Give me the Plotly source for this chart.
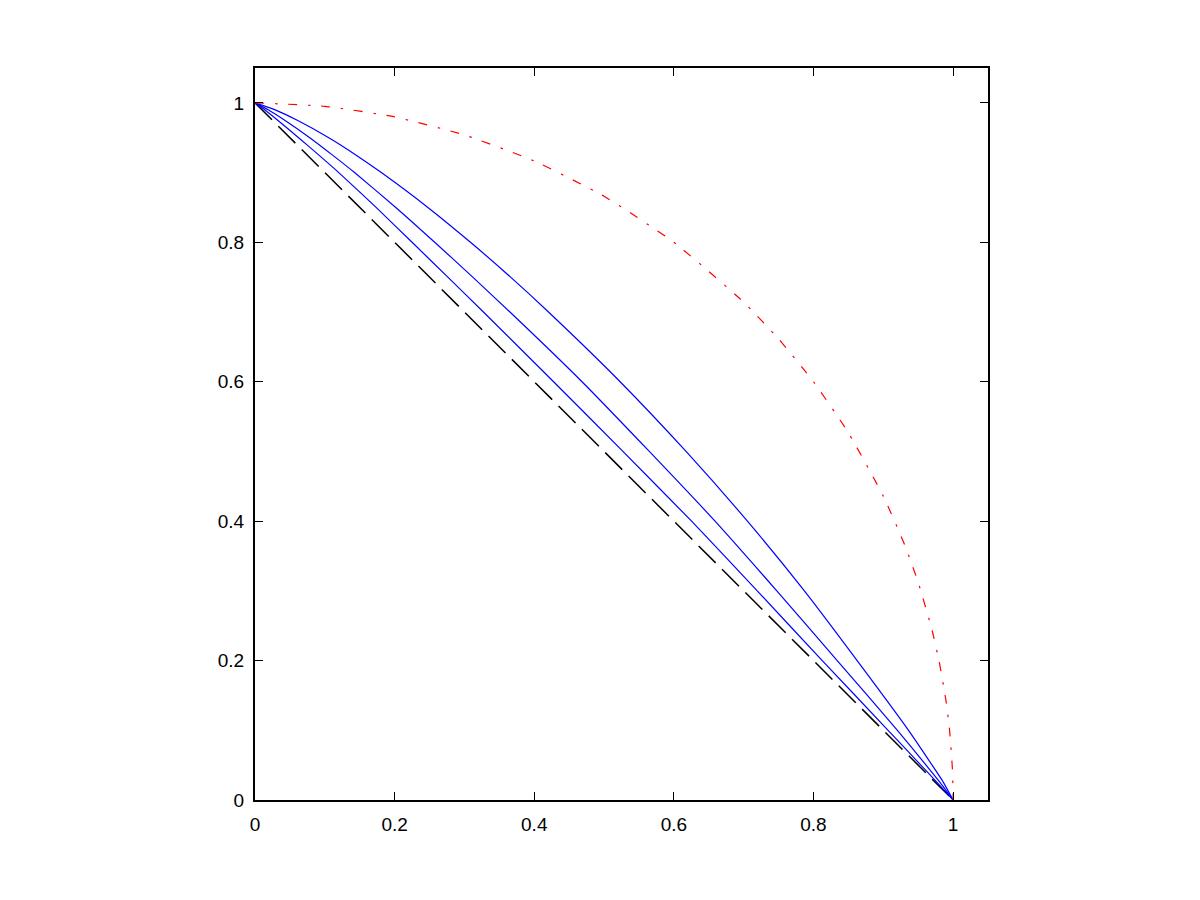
import plotly.graph_objects as go

# Quarter circle (red dash-dot)
red_x = [0, 0.1, 0.2, 0.3, 0.4, 0.5, 0.6, 0.7, 0.75, 0.8, 0.85, 0.9, 0.93, 0.95, 0.97, 0.98, 0.99, 0.995, 0.999, 0.9999, 1]
red_y = [1, 0.99499, 0.97980, 0.95394, 0.91652, 0.86603, 0.8, 0.71414, 0.66144, 0.6, 0.52678, 0.43589,
         0.36756, 0.31225, 0.24310, 0.19900, 0.14107, 0.09987, 0.04471, 0.01414, 0]

# Blue curves, shared y levels
blue_y = [1, 0.99, 0.975, 0.95, 0.925, 0.9, 0.85, 0.8, 0.75, 0.7, 0.6, 0.5, 0.4, 0.3, 0.2, 0.1, 0.05, 0.025, 0]
blue1_x = [0, 0.01371, 0.03252, 0.06249, 0.09157, 0.11999, 0.17349, 0.22503, 0.27625, 0.32721, 0.42772,
           0.52702, 0.62540, 0.71944, 0.81257, 0.90689, 0.95382, 0.97723, 1]
blue2_x = [0, 0.01891, 0.04252, 0.07841, 0.11116, 0.14261, 0.20168, 0.25746, 0.31190, 0.36522, 0.46843,
           0.56484, 0.65898, 0.74747, 0.83399, 0.92024, 0.96132, 0.98152, 1]
blue3_x = [0, 0.02896, 0.06058, 0.10566, 0.14497, 0.18098, 0.24764, 0.30865, 0.36615, 0.42043, 0.52304,
           0.61748, 0.70538, 0.78699, 0.86256, 0.93617, 0.96998, 0.98630, 1]

# Black dashed diagonal
diag_x = [0, 1]
diag_y = [1, 0]

tick_vals = [0, 0.2, 0.4, 0.6, 0.8, 1]
tick_text = ["0", "0.2", "0.4", "0.6", "0.8", "1"]

fig = go.Figure()
fig.add_trace(go.Scatter(x=diag_x, y=diag_y, mode="lines",
                         line=dict(color="black", width=1.5, dash="24px,9px")))
for bx in (blue1_x, blue2_x, blue3_x):
    fig.add_trace(go.Scatter(x=bx, y=blue_y, mode="lines",
                             line=dict(color="#0000ff", width=1.2, shape="spline", smoothing=0.5)))
fig.add_trace(go.Scatter(x=red_x, y=red_y, mode="lines",
                         line=dict(color="#ff0000", width=1.2, shape="spline", smoothing=0.5,
                                   dash="9px,11px,2.5px,10.5px")))

axis_common = dict(
    tickvals=tick_vals, ticktext=tick_text,
    showline=True, linecolor="black", linewidth=2, mirror="ticks",
    ticks="inside", ticklen=8, tickwidth=1, tickcolor="black",
    showgrid=False, zeroline=False,
    tickfont=dict(family="Liberation Sans, Arial, sans-serif", size=19, color="black"),
)
fig.update_layout(
    width=1200, height=900,
    margin=dict(l=247, r=220, t=60, b=108),
    plot_bgcolor="white", paper_bgcolor="white",
    showlegend=False,
    xaxis=dict(range=[0, 1.05], ticklabelstandoff=6, **axis_common),
    yaxis=dict(range=[0, 1.05], ticklabelstandoff=5, **axis_common),
)
fig.write_html("out.html")
